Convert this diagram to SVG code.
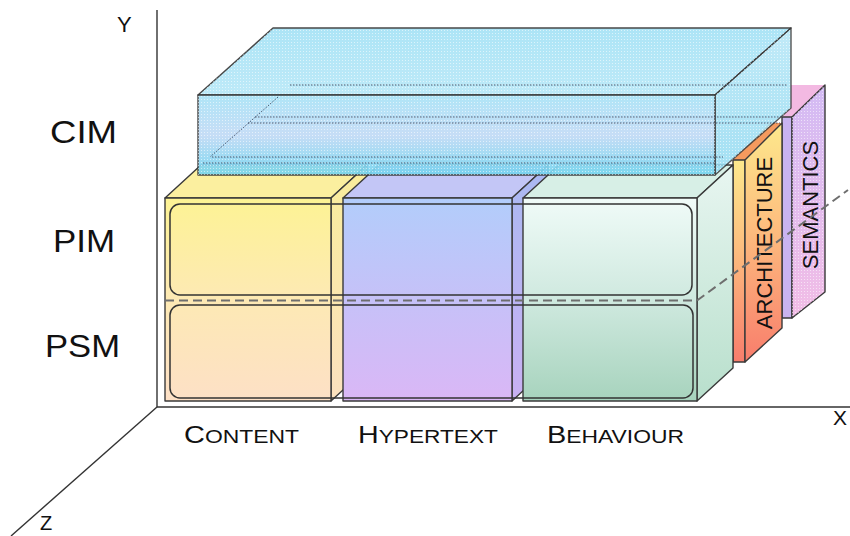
<svg xmlns="http://www.w3.org/2000/svg" width="850" height="536" viewBox="0 0 850 536">
<defs>
  <linearGradient id="gContentFront" x1="0" y1="0" x2="0" y2="1"><stop offset="0" stop-color="#fdf394"/><stop offset="0.5" stop-color="#fde9b4"/><stop offset="1" stop-color="#fde0c6"/></linearGradient>
  <linearGradient id="gContentSide" x1="0" y1="0" x2="0" y2="1"><stop offset="0" stop-color="#f9ed9a"/><stop offset="1" stop-color="#fbe1bf"/></linearGradient>
  <linearGradient id="gHyperFront" x1="0" y1="0" x2="0" y2="1"><stop offset="0" stop-color="#b2cdfb"/><stop offset="0.5" stop-color="#c6c1f8"/><stop offset="1" stop-color="#dab7f6"/></linearGradient>
  <linearGradient id="gHyperSide" x1="0" y1="0" x2="0" y2="1"><stop offset="0" stop-color="#a9b9f2"/><stop offset="1" stop-color="#c9b0f2"/></linearGradient>
  <linearGradient id="gBehFront" x1="0" y1="0" x2="0" y2="1"><stop offset="0" stop-color="#f0fbf8"/><stop offset="0.5" stop-color="#cfe9df"/><stop offset="1" stop-color="#a7d3bd"/></linearGradient>
  <linearGradient id="gBehSide" x1="0" y1="0" x2="0" y2="1"><stop offset="0" stop-color="#e8f6f1"/><stop offset="1" stop-color="#b8dfcc"/></linearGradient>
  <linearGradient id="gArch" x1="0" y1="0" x2="0" y2="1"><stop offset="0" stop-color="#fde98c"/><stop offset="0.45" stop-color="#fdbc7e"/><stop offset="1" stop-color="#f87d6c"/></linearGradient>
  <linearGradient id="gSem" x1="0" y1="0" x2="0" y2="1"><stop offset="0" stop-color="#d3bbf4"/><stop offset="1" stop-color="#f2bde6"/></linearGradient>
  <linearGradient id="gCimFront" x1="0" y1="0" x2="0" y2="1"><stop offset="0" stop-color="#a9e3f7"/><stop offset="0.5" stop-color="#c2dbf6"/><stop offset="1" stop-color="#74d4ef"/></linearGradient>
  <linearGradient id="gCimTop" x1="0" y1="0" x2="0" y2="1"><stop offset="0" stop-color="#a6e2f6"/><stop offset="1" stop-color="#b9e9f8"/></linearGradient>
  <linearGradient id="gCimSide" x1="0" y1="0" x2="0" y2="1"><stop offset="0" stop-color="#b7e7f7"/><stop offset="1" stop-color="#94dbf2"/></linearGradient>
  <pattern id="dots" width="3" height="3" patternUnits="userSpaceOnUse"><rect width="1" height="1" fill="#ffffff" opacity="0.55"/></pattern>
</defs>
<style>
  .edge{stroke:#3a3a3a;stroke-width:1.4;stroke-linejoin:round}
  .lbl{font-family:"Liberation Sans",Arial,sans-serif;fill:#111}
  .hid{fill:none;stroke:#1e2a44;stroke-width:1;stroke-dasharray:1.5 1.5;opacity:0.75}
  .axis{stroke:#333;stroke-width:1.4;fill:none}
  .row{fill:none;stroke:#333;stroke-width:1.5}
</style>
<rect width="850" height="536" fill="#ffffff"/>

<g id="axes">
  <line class="axis" x1="157" y1="10" x2="157" y2="407"/>
  <line class="axis" x1="157" y1="407" x2="850" y2="407"/>
  <line class="axis" x1="157" y1="407" x2="11" y2="536"/>
</g>

<g id="semantics">
  <polygon fill="#f3b9e2" points="782,117 791,108 791,85 825,85 792,117"/>
  <rect class="edge" x="782" y="117" width="10" height="201" fill="#c9b3f0"/>
  <polygon class="edge" fill="url(#gSem)" points="792,117 825,85 825,292 792,318"/>
  <polygon fill="url(#dots)" points="792,117 825,85 825,292 792,318"/>
  <text class="lbl" font-size="22" text-anchor="middle" transform="translate(818,205) rotate(-90)">SEMANTICS</text>
</g>

<g id="architecture">
  <polygon fill="#f59a5e" points="733,160 745,160 782,123 770,123"/>
  <rect class="edge" x="733" y="160" width="12" height="202" fill="url(#gArch)"/>
  <polygon class="edge" fill="url(#gArch)" points="745,160 782,123 782,328 745,362"/>
  <text class="lbl" font-size="22" text-anchor="middle" transform="translate(772,243) rotate(-90)">ARCHITECTURE</text>
</g>

<g id="content">
  <polygon class="edge" fill="#fbef9f" points="165,198 331,198 367,165 201,165"/>
  <polygon class="edge" fill="url(#gContentSide)" points="331,198 367,165 367,368 331,401"/>
  <rect class="edge" x="165" y="198" width="166" height="203" fill="url(#gContentFront)"/>
</g>

<g id="hypertext">
  <polygon class="edge" fill="#c3c6f6" points="343,198 512,198 548,165 379,165"/>
  <polygon class="edge" fill="url(#gHyperSide)" points="512,198 548,165 548,368 512,401"/>
  <rect class="edge" x="343" y="198" width="169" height="203" fill="url(#gHyperFront)"/>
</g>

<g id="behaviour">
  <polygon class="edge" fill="#d7efe6" points="523,198 697,198 733,165 559,165"/>
  <polygon class="edge" fill="url(#gBehSide)" points="697,198 733,165 733,368 697,401"/>
  <rect class="edge" x="523" y="198" width="174" height="203" fill="url(#gBehFront)"/>
</g>

<g id="rows">
  <rect class="row" x="170" y="204" width="522" height="91" rx="10"/>
  <rect class="row" x="170" y="305" width="523" height="93" rx="10"/>
</g>

<g id="connectors">
  <path d="M165,300.5 H697 L848,190" fill="none" stroke="#6e6e6e" stroke-width="2" stroke-dasharray="9 5"/>
</g>

<g id="cim">
  <polygon class="edge" fill="url(#gCimTop)" opacity="0.92" points="198,95 715,95 791,28 273,28"/>
  <polygon class="edge" fill="url(#gCimSide)" opacity="0.85" points="715,95 791,28 791,108 715,175"/>
  <rect class="edge" x="198" y="95" width="517" height="80" fill="url(#gCimFront)" opacity="0.92"/>
  <polygon fill="url(#dots)" points="198,95 715,95 791,28 273,28"/>
  <polygon fill="url(#dots)" points="715,95 791,28 791,108 715,175"/>
  <rect x="198" y="95" width="517" height="80" fill="url(#dots)"/>
  <line class="hid" x1="290" y1="85" x2="787" y2="85"/>
  <line class="hid" x1="255" y1="117" x2="782" y2="117"/>
  <line class="hid" x1="248" y1="123" x2="780" y2="123"/>
  <line class="hid" x1="212" y1="157" x2="723" y2="157"/>
  <line class="hid" x1="203" y1="163" x2="715" y2="163"/>
  <line class="hid" x1="278" y1="97" x2="210" y2="157"/>
</g>

<g id="labels">
  <text class="lbl" x="117" y="32" font-size="22">Y</text>
  <text class="lbl" x="833" y="425" font-size="21">X</text>
  <text class="lbl" x="40" y="530" font-size="20">Z</text>
  <text class="lbl" x="50" y="143" font-size="32" textLength="67" lengthAdjust="spacingAndGlyphs">CIM</text>
  <text class="lbl" x="53" y="252" font-size="32" textLength="62" lengthAdjust="spacingAndGlyphs">PIM</text>
  <text class="lbl" x="45" y="357" font-size="32" textLength="75" lengthAdjust="spacingAndGlyphs">PSM</text>
  <text class="lbl" x="184" y="443" textLength="115" lengthAdjust="spacingAndGlyphs"><tspan font-size="24">C</tspan><tspan font-size="19">ONTENT</tspan></text>
  <text class="lbl" x="358" y="443" textLength="140" lengthAdjust="spacingAndGlyphs"><tspan font-size="24">H</tspan><tspan font-size="19">YPERTEXT</tspan></text>
  <text class="lbl" x="547" y="443" textLength="137" lengthAdjust="spacingAndGlyphs"><tspan font-size="24">B</tspan><tspan font-size="19">EHAVIOUR</tspan></text>
</g>
</svg>
